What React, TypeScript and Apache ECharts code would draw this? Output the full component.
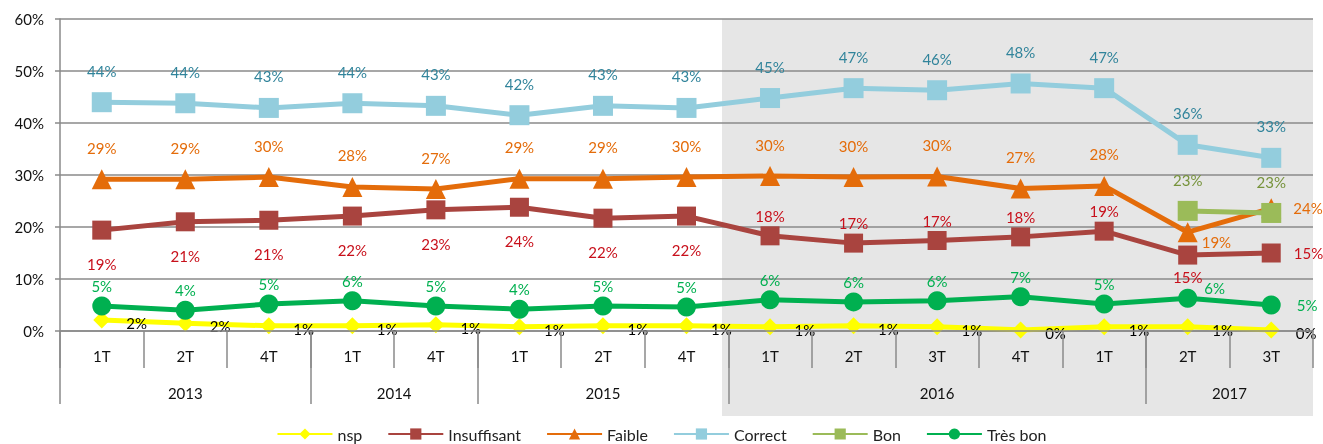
import React, { useEffect, useRef } from "react";
import * as echarts from "echarts";

const quarters = ["1T", "2T", "4T", "1T", "4T", "1T", "2T", "4T", "1T", "2T", "3T", "4T", "1T", "2T", "3T"];
const years = ["2013", "2014", "2015", "2016", "2017"];
const yearSpans = [3, 2, 3, 5, 2];
const yTicks = [0, 10, 20, 30, 40, 50, 60];

const nsp = [2.1, 1.5, 1.0, 1.0, 1.2, 0.8, 1.0, 1.0, 0.8, 1.0, 0.8, 0.2, 0.8, 0.8, 0.2];
const insuffisant = [19.4, 21.0, 21.3, 22.1, 23.3, 23.8, 21.7, 22.1, 18.3, 16.9, 17.4, 18.1, 19.2, 14.6, 15.0];
const faible = [29.2, 29.2, 29.6, 27.7, 27.3, 29.3, 29.3, 29.6, 29.8, 29.6, 29.7, 27.4, 27.9, 19.0, 23.6];
const correct = [44.0, 43.8, 42.9, 43.8, 43.3, 41.5, 43.3, 42.9, 44.8, 46.7, 46.3, 47.6, 46.7, 35.8, 33.3];
const bon = [null, null, null, null, null, null, null, null, null, null, null, null, null, 23.1, 22.7];
const tresBon = [4.8, 4.0, 5.2, 5.8, 4.8, 4.2, 4.8, 4.6, 6.0, 5.6, 5.8, 6.6, 5.2, 6.3, 5.0];

const FONT = "Lato";
const fmt = (p: any) => Math.round(p.value) + "%";

function mk(values: (number | null)[], labelFn: (i: number) => any) {
  return values.map((v, i) => (v === null ? null : { value: v, label: labelFn(i) }));
}

export default function App() {
  const ref = useRef<HTMLDivElement>(null);
  useEffect(() => {
    if (!ref.current) return;
    const chart = echarts.init(ref.current, null, { renderer: "svg" });
    const starts: number[] = [];
    const centers: number[] = [];
    let acc = 0;
    yearSpans.forEach((s) => {
      starts.push(acc);
      centers.push(acc + s / 2);
      acc += s;
    });
    const gray = "#8a8a8a";
    const lbl = (color: string) => ({ show: true, color, fontSize: 15, fontFamily: FONT, formatter: fmt });

    const option: any = {
      animation: false,
      textStyle: { fontFamily: FONT },
      grid: { left: 60, right: 10, top: 19, bottom: 113 },
      graphic: [
        {
          type: "rect",
          z: -10,
          silent: true,
          shape: { x: 722, y: 19, width: 591, height: 397 },
          style: { fill: "#e6e6e6" },
        },
      ],
      legend: {
        top: 426,
        left: "center",
        padding: 0,
        itemWidth: 55,
        itemHeight: 14,
        itemGap: 25,
        textStyle: { fontSize: 16, color: "#222", fontFamily: FONT },
        data: ["nsp", "Insuffisant", "Faible", "Correct", "Bon", "Très bon"],
      },
      xAxis: [
        {
          type: "category",
          data: quarters,
          boundaryGap: true,
          z: 5,
          axisLine: { show: true, lineStyle: { color: gray, width: 1.5 } },
          axisTick: { show: true, length: 37, interval: 0, lineStyle: { color: gray, width: 1.5 } },
          axisLabel: { interval: 0, margin: 17, fontSize: 15, color: "#111", fontFamily: FONT },
        },
        {
          type: "value",
          min: 0,
          max: quarters.length,
          position: "bottom",
          z: 5,
          axisLine: { show: false },
          splitLine: { show: false },
          axisTick: { show: true, length: 73, customValues: starts, lineStyle: { color: gray, width: 1.5 } },
          axisLabel: {
            show: true,
            customValues: centers,
            margin: 54,
            fontSize: 15,
            color: "#111",
            fontFamily: FONT,
            formatter: (v: number) => {
              const k = centers.findIndex((c) => Math.abs(c - v) < 1e-6);
              return k >= 0 ? years[k] : "";
            },
          },
        },
      ],
      yAxis: {
        type: "value",
        min: 0,
        max: 60,
        interval: 10,
        axisLine: { show: true, lineStyle: { color: gray, width: 1.5 } },
        axisTick: { show: true, length: 5, lineStyle: { color: gray, width: 1.5 } },
        splitLine: { show: true, lineStyle: { color: gray, width: 1.5 } },
        axisLabel: { formatter: (v: number) => (yTicks.includes(v) ? v + "%" : ""), fontSize: 15, color: "#111", margin: 16, fontFamily: FONT },
      },
      series: [
        {
          name: "nsp",
          type: "line",
          symbol: "diamond",
          symbolSize: 17,
          color: "#FFFF00",
          lineStyle: { width: 5, color: "#FFFF00" },
          data: mk(nsp, () => ({ ...lbl("#000"), position: "right", distance: 16, offset: [0, 3] })),
        },
        {
          name: "Insuffisant",
          type: "line",
          symbol: "rect",
          symbolSize: 19,
          color: "#A9443F",
          lineStyle: { width: 5, color: "#A9443F" },
          data: mk(insuffisant, (i) => {
            const b = lbl("#C8101B");
            if (i < 8) return { ...b, position: "bottom", distance: 17 };
            if (i < 13) return { ...b, position: "top", distance: 3 };
            if (i === 13) return { ...b, position: "bottom", distance: 5 };
            return { ...b, position: "right", distance: 13 };
          }),
        },
        {
          name: "Faible",
          type: "line",
          symbol: "triangle",
          symbolSize: 20,
          color: "#E46C0A",
          lineStyle: { width: 5, color: "#E46C0A" },
          data: mk(faible, (i) => {
            const b = lbl("#E46C0A");
            if (i < 13) return { ...b, position: "top", distance: 14 };
            if (i === 13) return { ...b, position: "right", distance: 4, offset: [0, 10] };
            return { ...b, position: "right", distance: 12 };
          }),
        },
        {
          name: "Correct",
          type: "line",
          symbol: "rect",
          symbolSize: 20,
          color: "#93CDDD",
          lineStyle: { width: 5, color: "#93CDDD" },
          data: mk(correct, () => ({ ...lbl("#31849B"), position: "top", distance: 14 })),
        },
        {
          name: "Bon",
          type: "line",
          symbol: "rect",
          symbolSize: 20,
          color: "#9BBB59",
          lineStyle: { width: 5, color: "#9BBB59" },
          data: mk(bon, () => ({ ...lbl("#77933C"), position: "top", distance: 13 })),
        },
        {
          name: "Très bon",
          type: "line",
          symbol: "circle",
          symbolSize: 19,
          color: "#00B050",
          lineStyle: { width: 5, color: "#00B050" },
          data: mk(tresBon, (i) => {
            const b = lbl("#00B050");
            if (i < 13) return { ...b, position: "top", distance: 3 };
            if (i === 13) return { ...b, position: "right", distance: 7, offset: [0, -10] };
            return { ...b, position: "right", distance: 16 };
          }),
        },
      ],
    };
    chart.setOption(option);
    return () => chart.dispose();
  }, []);
  return <div ref={ref} style={{ position: "fixed", left: 0, top: 0, width: 1323, height: 444 }} />;
}
